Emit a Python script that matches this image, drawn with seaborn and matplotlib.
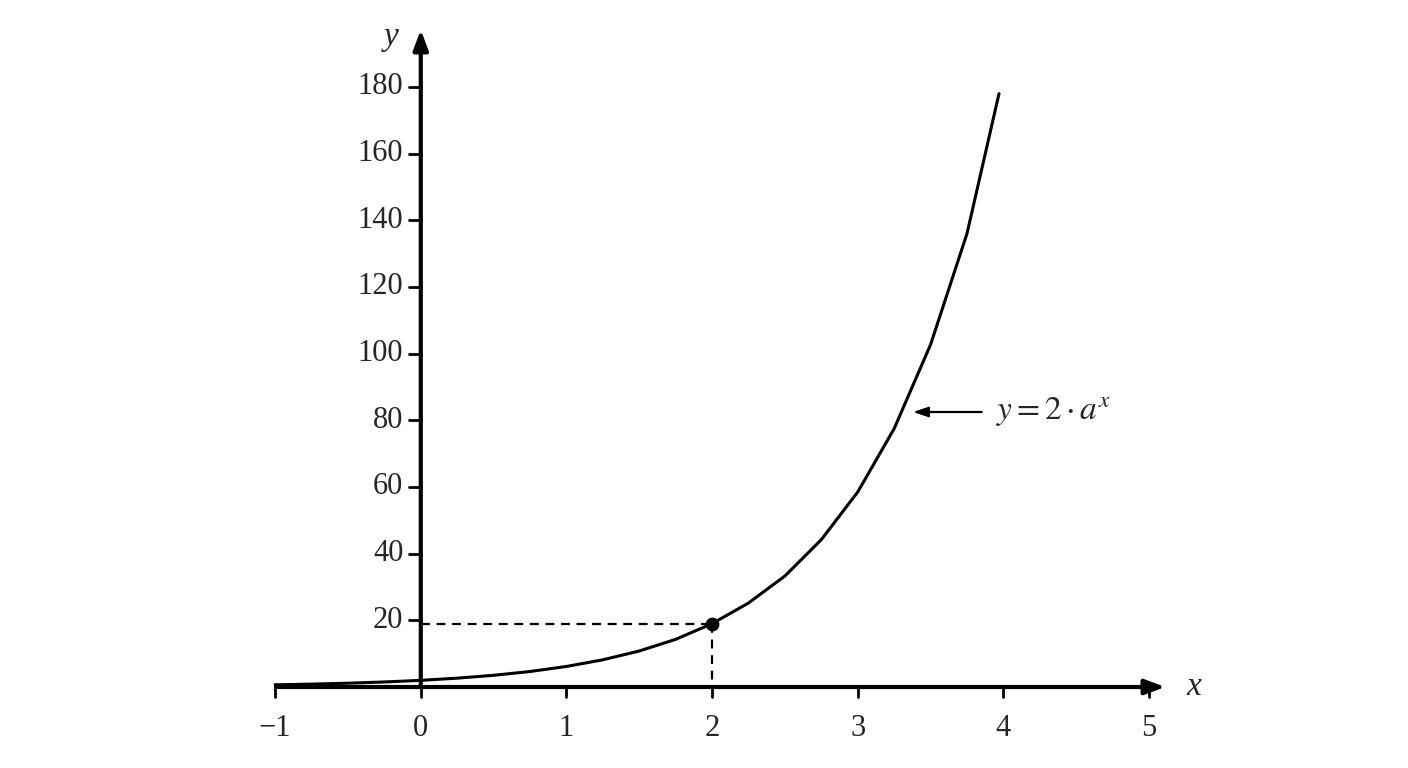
import numpy as np
import pandas as pd
import matplotlib
matplotlib.use("Agg")
import matplotlib.pyplot as plt
import seaborn as sns

curve_x = [-1.0, -0.75, -0.5, -0.25, 0.0, 0.25, 0.5, 0.75, 1.0, 1.25, 1.5, 1.75,
           2.0, 2.25, 2.5, 2.75, 3.0, 3.25, 3.5, 3.75, 3.97]
curve_y = [0.65, 0.86, 1.14, 1.51, 2.0, 2.65, 3.51, 4.65, 6.16, 8.16, 10.8, 14.3,
           19.0, 25.2, 33.3, 44.2, 58.5, 77.5, 102.7, 136.0, 178.0]
point_x, point_y = 2, 19
x_ticks = [-1, 0, 1, 2, 3, 4, 5]
x_tick_labels = ["\u22121", "0", "1", "2", "3", "4", "5"]
y_ticks = [20, 40, 60, 80, 100, 120, 140, 160, 180]

sns.set_style("white")
plt.rcParams['font.family'] = ['Liberation Serif', 'DejaVu Serif']
plt.rcParams['mathtext.fontset'] = 'stix'

fig = plt.figure(figsize=(14.08, 7.68), dpi=100)
ax = fig.add_axes([0, 0, 1, 1])
ax.set_xlim(-2.889, 6.778)
ax.set_ylim(-24.3, 206.1)
ax.axis('off')

df = pd.DataFrame({'x': curve_x, 'y': curve_y})
sns.lineplot(data=df, x='x', y='y', ax=ax, color='black', lw=2.2, sort=False)

# axes with arrows
arrow = dict(arrowstyle='-|>,head_length=1.2,head_width=0.45', color='black', lw=3)
ax.annotate('', xy=(5.13, 0), xytext=(-1, 0), arrowprops=arrow)
ax.annotate('', xy=(0, 198), xytext=(0, -0.5), arrowprops=arrow)

for xt, lab in zip(x_ticks, x_tick_labels):
    if xt != -1:
        ax.plot([xt, xt], [0, -3], color='black', lw=2)
    ax.text(xt, -12.5, lab, ha='center', va='center', fontsize=22)
ax.plot([-1, -1], [-3, 1], color='black', lw=2)
for yt in y_ticks:
    ax.plot([-0.08, 0], [yt, yt], color='black', lw=2)
    ax.text(-0.12, yt, str(yt), ha='right', va='center', fontsize=22)

ax.text(-0.2, 195, 'y', style='italic', fontsize=24, ha='center', va='center')
ax.text(5.31, 0, 'x', style='italic', fontsize=24, ha='center', va='center')

# dashed guides and point
ax.plot([0, point_x], [point_y, point_y], color='black', lw=1.6, ls=(0, (4, 3)))
ax.plot([point_x, point_x], [point_y, 0], color='black', lw=1.6, ls=(0, (4, 3)))
ax.scatter([point_x], [point_y], color='black', s=80, zorder=5)

# label with arrow
ax.annotate('', xy=(3.36, 82.5), xytext=(3.87, 82.5),
            arrowprops=dict(arrowstyle='-|>,head_length=0.9,head_width=0.3', color='black', lw=1.6))
ax.text(3.95, 82.5, r'$y = 2\cdot a^{x}$', fontsize=24, ha='left', va='center')

fig.savefig('out.png', dpi=100)
